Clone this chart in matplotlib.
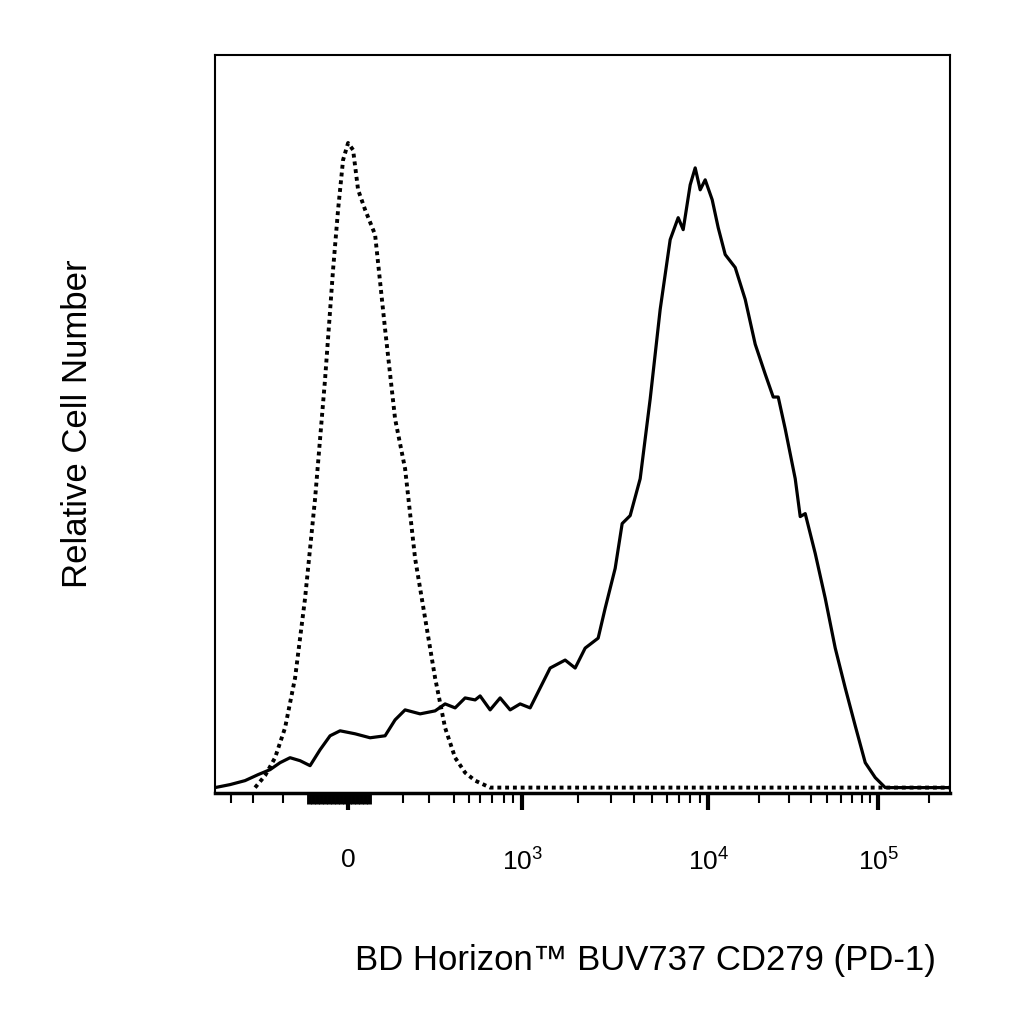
import numpy as np
import matplotlib.pyplot as plt

plt.rcParams['font.family'] = ['Liberation Sans', 'DejaVu Sans']
plt.rcParams['mathtext.fontset'] = 'custom'
plt.rcParams['mathtext.rm'] = 'Liberation Sans'
plt.rcParams['mathtext.it'] = 'Liberation Sans'

# x in display channels (0..735), y in relative counts (0..738)
iso_x = [40, 50, 60, 70, 80, 90, 100, 110, 118, 123, 128, 133, 138, 143, 150, 160,
         170, 180, 190, 200, 210, 220, 230, 240, 250, 260, 275, 735]
iso_y = [3, 15, 33, 63, 113, 193, 293, 413, 523, 583, 633, 650, 643, 603, 583, 558,
         463, 373, 323, 233, 173, 113, 63, 33, 18, 10, 3, 3]

pd1_x = [0, 15, 30, 43, 55, 65, 75, 85, 95, 105, 115, 125, 140, 155, 170, 180, 190,
         205, 220, 230, 240, 250, 260, 265, 275, 285, 295, 305, 315, 325, 335, 350,
         360, 370, 383, 390, 400, 407, 415, 425, 435, 445, 455, 463, 468, 475, 480,
         485, 490, 497, 503, 510, 520, 530, 540, 550, 558, 563, 570, 580, 585, 590,
         600, 610, 620, 630, 640, 650, 660, 670, 735]
pd1_y = [3, 6, 10, 16, 21, 28, 33, 30, 25, 41, 55, 60, 57, 53, 55, 71, 81, 77, 80,
         87, 83, 93, 91, 95, 81, 93, 81, 87, 83, 103, 123, 131, 123, 143, 153, 183,
         223, 268, 276, 313, 393, 483, 553, 575, 563, 608, 625, 603, 613, 593, 565,
         538, 525, 493, 448, 418, 395, 395, 363, 313, 275, 278, 238, 193, 143, 103,
         65, 28, 13, 3, 3]

major_pos = [133, 307, 493, 663]
major_lab = ['0', r'$10^{3}$', r'$10^{4}$', r'$10^{5}$']

fig = plt.figure(figsize=(10.24, 10.24), dpi=100)
ax = fig.add_axes([0.21, 0.226, 0.718, 0.72])
ax.plot(iso_x, iso_y, color='black', linestyle=(0, (1, 1)), linewidth=2.8)
ax.plot(pd1_x, pd1_y, color='black', linewidth=2.3)
ax.set_yticks([])

# minor ticks: log decades plus the compressed low region
minor = [16, 38, 68, 188, 214, 239, 254, 265, 277, 289, 298]
for a, b in [(307, 493), (493, 663)]:
    for k in range(2, 10):
        minor.append(a + (b - a) * np.log10(k))
minor += [663 + 170 * np.log10(k) for k in (2, 3, 4)]
dense = list(np.arange(94, 157, 4))
ax.set_xticks(major_pos)
ax.set_xticklabels(major_lab, fontsize=19)
ax.set_xticks(minor, minor=True)
ax.tick_params(axis='x', which='major', length=12, width=3, direction='out', pad=28)
ax.tick_params(axis='x', which='minor', length=7, width=1.5, direction='out')
for p in dense:
    ax.plot([p, p], [-2, -13], color='black', lw=3.5, clip_on=False,
            solid_capstyle='butt')
ax.set_xlim(0, 735)
ax.set_ylim(-2, 738)

for s in ax.spines.values():
    s.set_linewidth(1.5)
ax.spines['bottom'].set_linewidth(2.5)

ax.set_ylabel('Relative Cell Number', fontsize=25)
ax.set_xlabel('BD Horizon™ BUV737 CD279 (PD-1)', fontsize=25)
ax.xaxis.set_label_coords(0.98, -0.205)
ax.xaxis.label.set_horizontalalignment('right')
ax.yaxis.set_label_coords(-0.165, 0.5)

fig.savefig('out.png', dpi=100)
